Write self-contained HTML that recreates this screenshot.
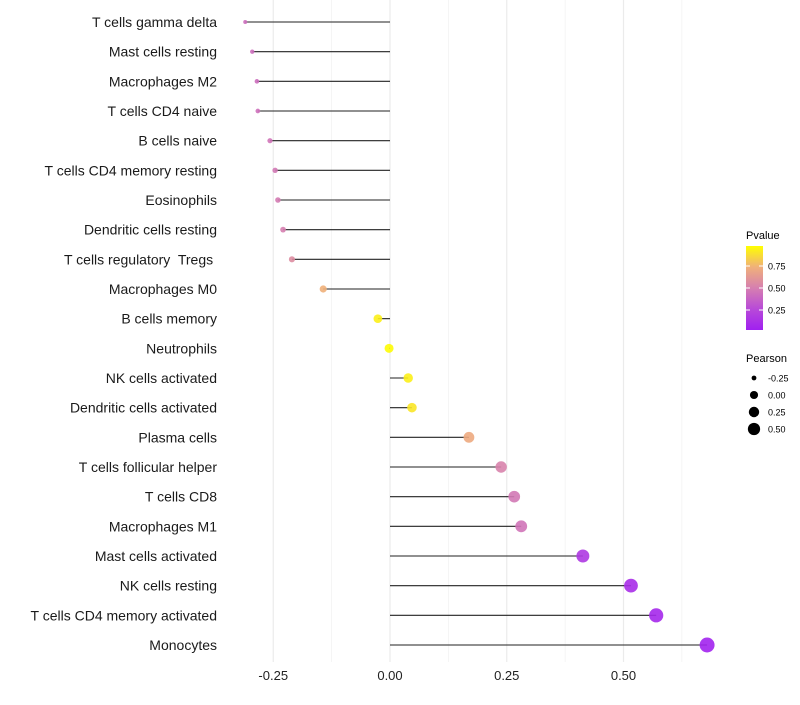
<!DOCTYPE html>
<html><head><meta charset="utf-8"><style>
body{margin:0;background:#fff;font-family:"Liberation Sans",sans-serif;}
text{white-space:pre;}
</style></head><body>
<svg id="chart" width="800" height="700" xmlns="http://www.w3.org/2000/svg" font-family="Liberation Sans, sans-serif">
<g id="grid"></g>
<g id="marks"></g>
<g id="ylabels"></g>
<g id="xlabels"></g>
<g>
<defs><linearGradient id="pg" x1="0" y1="1" x2="0" y2="0">
<stop offset="0" stop-color="#a020f0"/><stop offset="0.25" stop-color="#b84ad8"/><stop offset="0.5" stop-color="#d67fb0"/><stop offset="0.75" stop-color="#f0b07a"/><stop offset="1" stop-color="#ffff00"/></linearGradient></defs>
<text x="746" y="239" font-size="11" fill="#000">Pvalue</text>
<rect x="746" y="246" width="17" height="84" fill="url(#pg)"/>
<g id="cbticks"></g>
<text x="746" y="362" font-size="11" fill="#000">Pearson</text>
<g id="sizelegend"></g>
</g>
</svg>
<script>
const categories=["T cells gamma delta","Mast cells resting","Macrophages M2","T cells CD4 naive","B cells naive","T cells CD4 memory resting","Eosinophils","Dendritic cells resting","T cells regulatory  Tregs ","Macrophages M0","B cells memory","Neutrophils","NK cells activated","Dendritic cells activated","Plasma cells","T cells follicular helper","T cells CD8","Macrophages M1","Mast cells activated","NK cells resting","T cells CD4 memory activated","Monocytes"];
const pearson=[-0.310,-0.295,-0.285,-0.283,-0.257,-0.246,-0.240,-0.229,-0.210,-0.143,-0.026,-0.002,0.039,0.047,0.169,0.238,0.266,0.281,0.413,0.516,0.570,0.679];
const pvalues=[0.42,0.42,0.42,0.43,0.45,0.47,0.48,0.5,0.57,0.75,0.95,0.99,0.95,0.92,0.72,0.52,0.47,0.45,0.15,0.08,0.05,0.02];
const xTicks=[-0.25,0,0.25,0.5];
const xTickLabels=["-0.25","0.00","0.25","0.50"];
const cbTicks=[0.25,0.5,0.75];
const sizeLegend=[-0.25,0,0.25,0.5];
const sizeLegendLabels=["-0.25","0.00","0.25","0.50"];

const NS="http://www.w3.org/2000/svg";
const X=v=>390+v*467;
const Y=i=>22+i*29.667;
const pmin=Math.min(...pearson),pmax=Math.max(...pearson);
const R=v=>Math.sqrt(4+Math.max(0,(v-pmin)/(pmax-pmin))*(56-4));
const CB=p=>332-p*88;
function col(p){const s=[[0,[160,32,240]],[0.25,[184,74,216]],[0.5,[214,127,176]],[0.75,[240,176,122]],[1,[255,255,0]]];
for(let i=1;i<s.length;i++){if(p<=s[i][0]){const t=(p-s[i-1][0])/(s[i][0]-s[i-1][0]);const c=s[i-1][1].map((a,k)=>Math.round(a+(s[i][1][k]-a)*t));return`rgb(${c})`;}}return"rgb(255,255,0)";}
function mk(t,a,p){const e=document.createElementNS(NS,t);for(const k in a)e.setAttribute(k,a[k]);p.appendChild(e);return e;}
const grid=document.getElementById('grid');
[-0.125,0.125,0.375,0.625].forEach(v=>{const l=mk('line',{x1:X(v),x2:X(v),y1:0,y2:662,stroke:'#f2f2f2','stroke-width':0.8},grid);

});
xTicks.forEach(v=>{const l=mk('line',{x1:X(v),x2:X(v),y1:0,y2:662,stroke:'#ebebeb','stroke-width':1.2},grid);

});
const marks=document.getElementById('marks'),yl=document.getElementById('ylabels');
categories.forEach((c,i)=>{const y=Y(i);
const l=mk('line',{x1:X(0),x2:X(pearson[i]),y1:y,y2:y,stroke:'#222','stroke-width':1.1},marks);


const d=mk('circle',{cx:X(pearson[i]),cy:y,r:R(pearson[i]),fill:col(pvalues[i]),'fill-opacity':0.9},marks);


const t=mk('text',{x:217,y:y+5,'font-size':14,'text-anchor':'end',fill:'#1a1a1a'},yl);t.textContent=c;

});
const xl=document.getElementById('xlabels');
xTicks.forEach((v,i)=>{const t=mk('text',{x:X(v),y:680,'font-size':13,'text-anchor':'middle',fill:'#222'},xl);t.textContent=xTickLabels[i];

});
const cb=document.getElementById('cbticks');
cbTicks.forEach(p=>{mk('line',{x1:746,x2:750,y1:CB(p),y2:CB(p),stroke:'#fff'},cb);mk('line',{x1:759,x2:763,y1:CB(p),y2:CB(p),stroke:'#fff'},cb);
const t=mk('text',{x:768,y:CB(p)+3.5,'font-size':9,fill:'#000'},cb);t.textContent=p.toFixed(2);

});
const sl=document.getElementById('sizelegend');
sizeLegend.forEach((v,i)=>{const y=378+i*17;
const c=mk('circle',{cx:754,cy:y,r:R(v)*0.9,fill:'#000'},sl);


const t=mk('text',{x:768,y:y+3.5,'font-size':9,fill:'#000'},sl);t.textContent=sizeLegendLabels[i];

});
</script>
</body></html>
